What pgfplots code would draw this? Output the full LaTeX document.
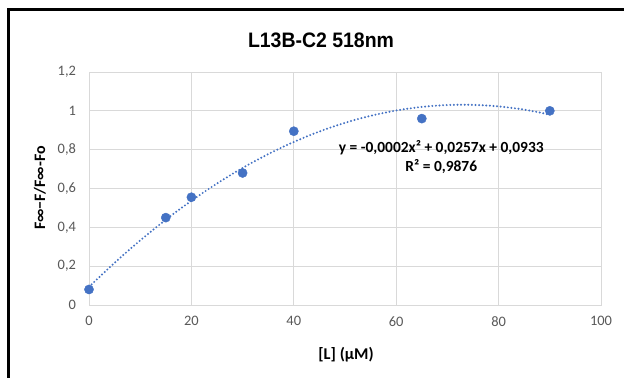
\documentclass[border=0pt]{standalone}
\usepackage{pgfplots}
\pgfplotsset{compat=1.18}
\usepackage{fontspec}
\setmainfont{Carlito}
\newfontfamily\arialfont{Liberation Sans}
\definecolor{mblue}{HTML}{4472C4}
\definecolor{gridc}{HTML}{D9D9D9}
\definecolor{tickc}{HTML}{595959}
\begin{document}
\begin{tikzpicture}[x=1bp,y=1bp]
\useasboundingbox (0,0) rectangle (624,377);
\fill[white] (0,0) rectangle (624,377);
\draw[line width=3bp] (8.5,-10) -- (8.5,367.5) -- (640,367.5);
\node at (321,337) {\arialfont\bfseries\fontsize{21}{21}\selectfont\scalebox{0.93}[1]{L13B-C2 518nm}};
\node[rotate=90] at (40,189) {\bfseries\fontsize{16}{16}\selectfont F∞−F/F∞-Fo};
\node at (346,22) {\bfseries\fontsize{16.5}{16.5}\selectfont [L] (μM)};
\begin{axis}[
  at={(89bp,72bp)}, anchor=south west, scale only axis,
  width=512bp, height=233bp,
  xmin=0, xmax=100, ymin=0, ymax=1.2,
  xtick={0,20,40,60,80,100},
  ytick={0,0.2,0.4,0.6,0.8,1,1.2},
  grid=major,
  grid style={gridc, line width=0.9bp},
  axis line style={gridc, line width=0.9bp},
  major tick length=0pt,
  tick style={draw=none},
  /pgf/number format/assume math mode=true,
  /pgf/number format/use comma,
  /pgf/number format/1000 sep={},
  ticklabel style={font=\fontsize{14.5}{14.5}\selectfont, text=tickc},
  xticklabel style={yshift=-8bp},
  yticklabel style={xshift=-9.5bp},
  clip=false,
]
\addplot[mblue, line width=2.2bp, dash pattern=on 0pt off 3.6bp, line cap=round, smooth] coordinates {
(0,0.0933) (5,0.2174) (10,0.3327) (15,0.4392) (20,0.5369) (25,0.6258)
(30,0.7059) (35,0.7772) (40,0.8397) (45,0.8934) (50,0.9383) (55,0.9744)
(60,1.0017) (65,1.0202) (70,1.0299) (75,1.0308) (80,1.0229) (85,1.0062)
(90,0.9807)};
\addplot[only marks, mark=*, mark size=4.6bp, mark options={fill=mblue, draw=mblue}] coordinates {
(0,0.08) (15,0.45) (20,0.555) (30,0.68) (40,0.895) (65,0.96) (90,1.0)};
\node[align=center, font=\bfseries\fontsize{15.5}{19.5}\selectfont, text=black] at (axis cs:68.8,0.762) {y = -0,0002x² + 0,0257x + 0,0933\\R² = 0,9876};
\end{axis}
\end{tikzpicture}
\end{document}
